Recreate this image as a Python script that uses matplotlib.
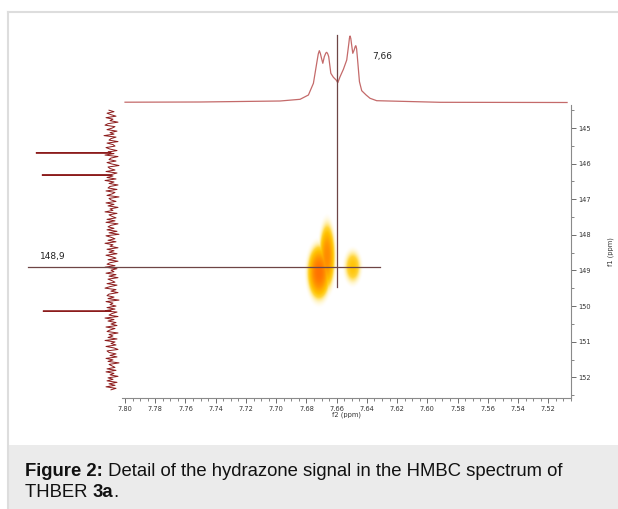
import numpy as np
import matplotlib
matplotlib.use("Agg")
import matplotlib.pyplot as plt
from matplotlib.colors import LinearSegmentedColormap

# ---- data ----
# 1H projection (top): f2 ppm / intensity
top_ppm = [7.800, 7.7505, 7.6976, 7.6844, 7.6789, 7.6756, 7.6734, 7.6724, 7.6717, 7.6710,
           7.6703, 7.6694, 7.6684, 7.6674, 7.6668, 7.6661, 7.6655, 7.6641, 7.6624, 7.6606,
           7.6595, 7.6580, 7.6558, 7.6536, 7.6522, 7.6518, 7.6514, 7.6509, 7.6505, 7.6496,
           7.6487, 7.6480, 7.6476, 7.6471, 7.6466, 7.6452, 7.6437, 7.6408, 7.6382, 7.6338,
           7.5919, 7.5081]
top_int = [0.3, 0.5, 1.5, 3.2, 7.5, 19.2, 39.5, 48.5, 51.8, 49.0,
           44.5, 39.2, 45.8, 49.5, 50.2, 48.5, 45.8, 29.2, 25.2, 22.5,
           19.8, 25.8, 33.2, 42.5, 59.2, 64.5, 66.5, 64.0, 59.2, 49.2,
           52.5, 56.0, 56.8, 54.0, 45.8, 20.8, 11.8, 7.5, 4.2, 1.8,
           0.2, 0.0]

# 13C projection (left): noisy baseline + three sharp lines
noise_start, noise_end = 144.5, 152.35
noise_int = [3, -2, 5, 1, -4, 6, -1, 2, -6, 4, 7, -3, 0, 5, -5, 2, -2, 8, -4, 1,
             3, -6, 5, -1, -3, 6, 2, -5, 4, -2, 7, -6, 1, 3, -4, 5, 0, -7, 4, 2,
             -3, 6, -5, 1, -1, 5, -4, 7, -2, 3, -6, 2, 4, -5, 6, -3, 0, 5, -7, 3,
             1, -4, 6, -2, 4, -6, 2, -1, 7, -5, 3, 0, -4, 5, -3, 6, -6, 1, 4, -2,
             5, -5, 3, -7, 6, 1, -3, 4, -4, 7, -1, 2, -6, 5, -2, 3, -5, 6, 0, -4,
             4, -6, 2, 5, -3, 7, -5, 1, -2, 6, -4, 3, -6, 4, 0, -3, 5, -5, 2, 7,
             -4, 1, -6, 3, 5, -2, 4, -7, 6, -1, 2, -4, 5, -3, 6, -5, 0, 3, -6, 7,
             -2, 4, -4, 1, -5, 6, -3, 2, 5, -6, 3, -1, 4, -5, 7, -3, 1, -4, 6, -2,
             -6, 5, 3, -4, 2, -5, 6, -1, 4, -7, 3, 0, -3, 5, -4, 6, -2, 2, -6, 4,
             -1, 5, -5, 3, -3, 6, -4, 1]
c13_peaks = [145.70, 146.32, 150.14]
c13_heights = [76, 70, 69]

# HMBC cross peaks: f2, f1, width f2, width f1, amplitude
cp_f2 = [7.6716, 7.6662, 7.6492]
cp_f1 = [149.05, 148.60, 148.90]
cp_w2 = [0.0044, 0.0031, 0.0036]
cp_w1 = [0.44, 0.55, 0.30]
cp_amp = [1.0, 0.78, 0.38]

x_major = [7.80, 7.78, 7.76, 7.74, 7.72, 7.70, 7.68, 7.66, 7.64, 7.62, 7.60, 7.58, 7.56, 7.54, 7.52]
y_major = [145, 146, 147, 148, 149, 150, 151, 152]

cross_f2 = 7.66
cross_f1 = 148.9

W, H = 618, 509
fig = plt.figure(figsize=(W / 100, H / 100), dpi=100)


def box(x0, y0, x1, y1):
    return [x0 / W, 1 - y1 / H, (x1 - x0) / W, (y1 - y0) / H]


# frame + caption background
fig.add_artist(plt.Rectangle((8 / W, 0), 1, (509 - 445) / H, transform=fig.transFigure,
                             facecolor="#ebebeb", edgecolor="none"))
fig.add_artist(plt.Line2D([8 / W, 1], [1 - 11.5 / H] * 2, transform=fig.transFigure,
                          color="#dddddd", lw=1.5))
fig.add_artist(plt.Line2D([8 / W] * 2, [0, 1 - 11.5 / H], transform=fig.transFigure,
                          color="#dddddd", lw=1.5))

xlim = (7.802, 7.5055)
ylim = (152.58, 144.354)

# top projection
axt = fig.add_axes(box(122, 20, 571, 105))
axt.plot(top_ppm, top_int, color="#c46a6a", lw=0.9)
axt.set_xlim(xlim)
axt.set_ylim(-2.5, 82.5)
axt.axis("off")

# left projection
noise_ppm = np.linspace(noise_start, noise_end, len(noise_int))
lp = list(noise_ppm)
li = list(noise_int)
for p, h in zip(c13_peaks, c13_heights):
    lp += [p - 0.012, p, p + 0.012]
    li += [1, h, 1]
order = np.argsort(lp)
axl = fig.add_axes(box(25, 105, 122, 398))
axl.plot(np.array(li)[order], np.array(lp)[order], color="#8c1c1c", lw=0.7)
axl.set_ylim(ylim)
axl.set_xlim(87, -10)
axl.axis("off")

# main 2D axes
ax = fig.add_axes(box(122, 105, 571, 398))
ax.set_zorder(3)
ax.patch.set_visible(False)

g2 = np.linspace(7.70, 7.62, 500)
g1 = np.linspace(147.0, 151.0, 500)
X, Y = np.meshgrid(g2, g1)
Z = np.zeros_like(X)
for a, b, s2, s1, amp in zip(cp_f2, cp_f1, cp_w2, cp_w1, cp_amp):
    r2 = 0.5 * (((X - a) / s2) ** 2 + ((Y - b) / s1) ** 2)
    Z = np.maximum(Z, amp * np.exp(-r2 ** 1.25))
cmap = LinearSegmentedColormap.from_list(
    "hmbc", [(0.0, "#fff3b0"), (0.2, "#ffdc50"), (0.4, "#ffc200"),
             (0.7, "#ff9600"), (1.0, "#ff7200")])
rgba = cmap(np.clip(Z, 0, 1))
rgba[..., 3] = np.clip((Z - 0.04) / 0.22, 0, 1)
ax.imshow(rgba, extent=[7.70, 7.62, 151.0, 147.0], origin="upper",
          aspect="auto", interpolation="bilinear")

# crosshair
ax.plot([cross_f2, cross_f2], [149.47, 142.39], color="#6e4545", lw=0.9, clip_on=False)
ax.plot([7.864, 7.6316], [cross_f1, cross_f1], color="#6e4545", lw=0.9, clip_on=False)

ax.set_xlim(xlim)
ax.set_ylim(ylim)
for s in ["top", "left"]:
    ax.spines[s].set_visible(False)
for s in ["bottom", "right"]:
    ax.spines[s].set_color("#8a8a8a")
    ax.spines[s].set_linewidth(0.8)
ax.yaxis.tick_right()
ax.yaxis.set_label_position("right")
ax.set_xticks(x_major)
ax.set_xticklabels([f"{v:.2f}" for v in x_major])
ax.set_xticks(np.arange(7.505, 7.802, 0.005), minor=True)
ax.set_yticks(y_major)
ax.set_yticklabels([str(v) for v in y_major])
ax.set_yticks(np.arange(144.5, 152.6, 0.5), minor=True)
ax.tick_params(which="major", length=3.5, width=0.6, color="#555555",
               labelsize=4.8, pad=2, labelcolor="#333333")
ax.tick_params(which="minor", length=2, width=0.5, color="#555555")
ax.set_xlabel("f2 (ppm)", fontsize=4.8, labelpad=0, color="#333333")
ax.set_ylabel("f1 (ppm)", fontsize=4.8, labelpad=12, color="#333333")

fig.text(372 / W, 1 - 56 / H, "7,66", fontsize=6.5, va="center", ha="left", color="#222222")
fig.text(40 / W, 1 - 256 / H, "148,9", fontsize=6.5, va="center", ha="left", color="#222222")

# caption
cap_font = ["Liberation Sans", "DejaVu Sans"]
cs = 13.3
t1 = fig.text(25 / W, 1 - 480 / H, "Figure 2:", fontsize=cs, fontweight="bold",
              family=cap_font, va="bottom", color="#111111")
ann = plt.Annotation(" Detail of the hydrazone signal in the HMBC spectrum of",
                     xy=(1, 0), xycoords=t1, va="bottom", fontsize=cs,
                     family=cap_font, color="#111111")
fig.add_artist(ann)
t3 = fig.text(25 / W, 1 - 501 / H, "THBER ", fontsize=cs, family=cap_font,
              va="bottom", color="#111111")
ann2 = plt.Annotation("3a", xy=(1, 0), xycoords=t3, va="bottom", fontsize=cs,
                      fontweight="bold", family=cap_font, color="#111111")
fig.add_artist(ann2)
ann3 = plt.Annotation(".", xy=(1, 0), xycoords=ann2, va="bottom", fontsize=cs,
                      family=cap_font, color="#111111")
fig.add_artist(ann3)

fig.savefig("out.png", dpi=100)
